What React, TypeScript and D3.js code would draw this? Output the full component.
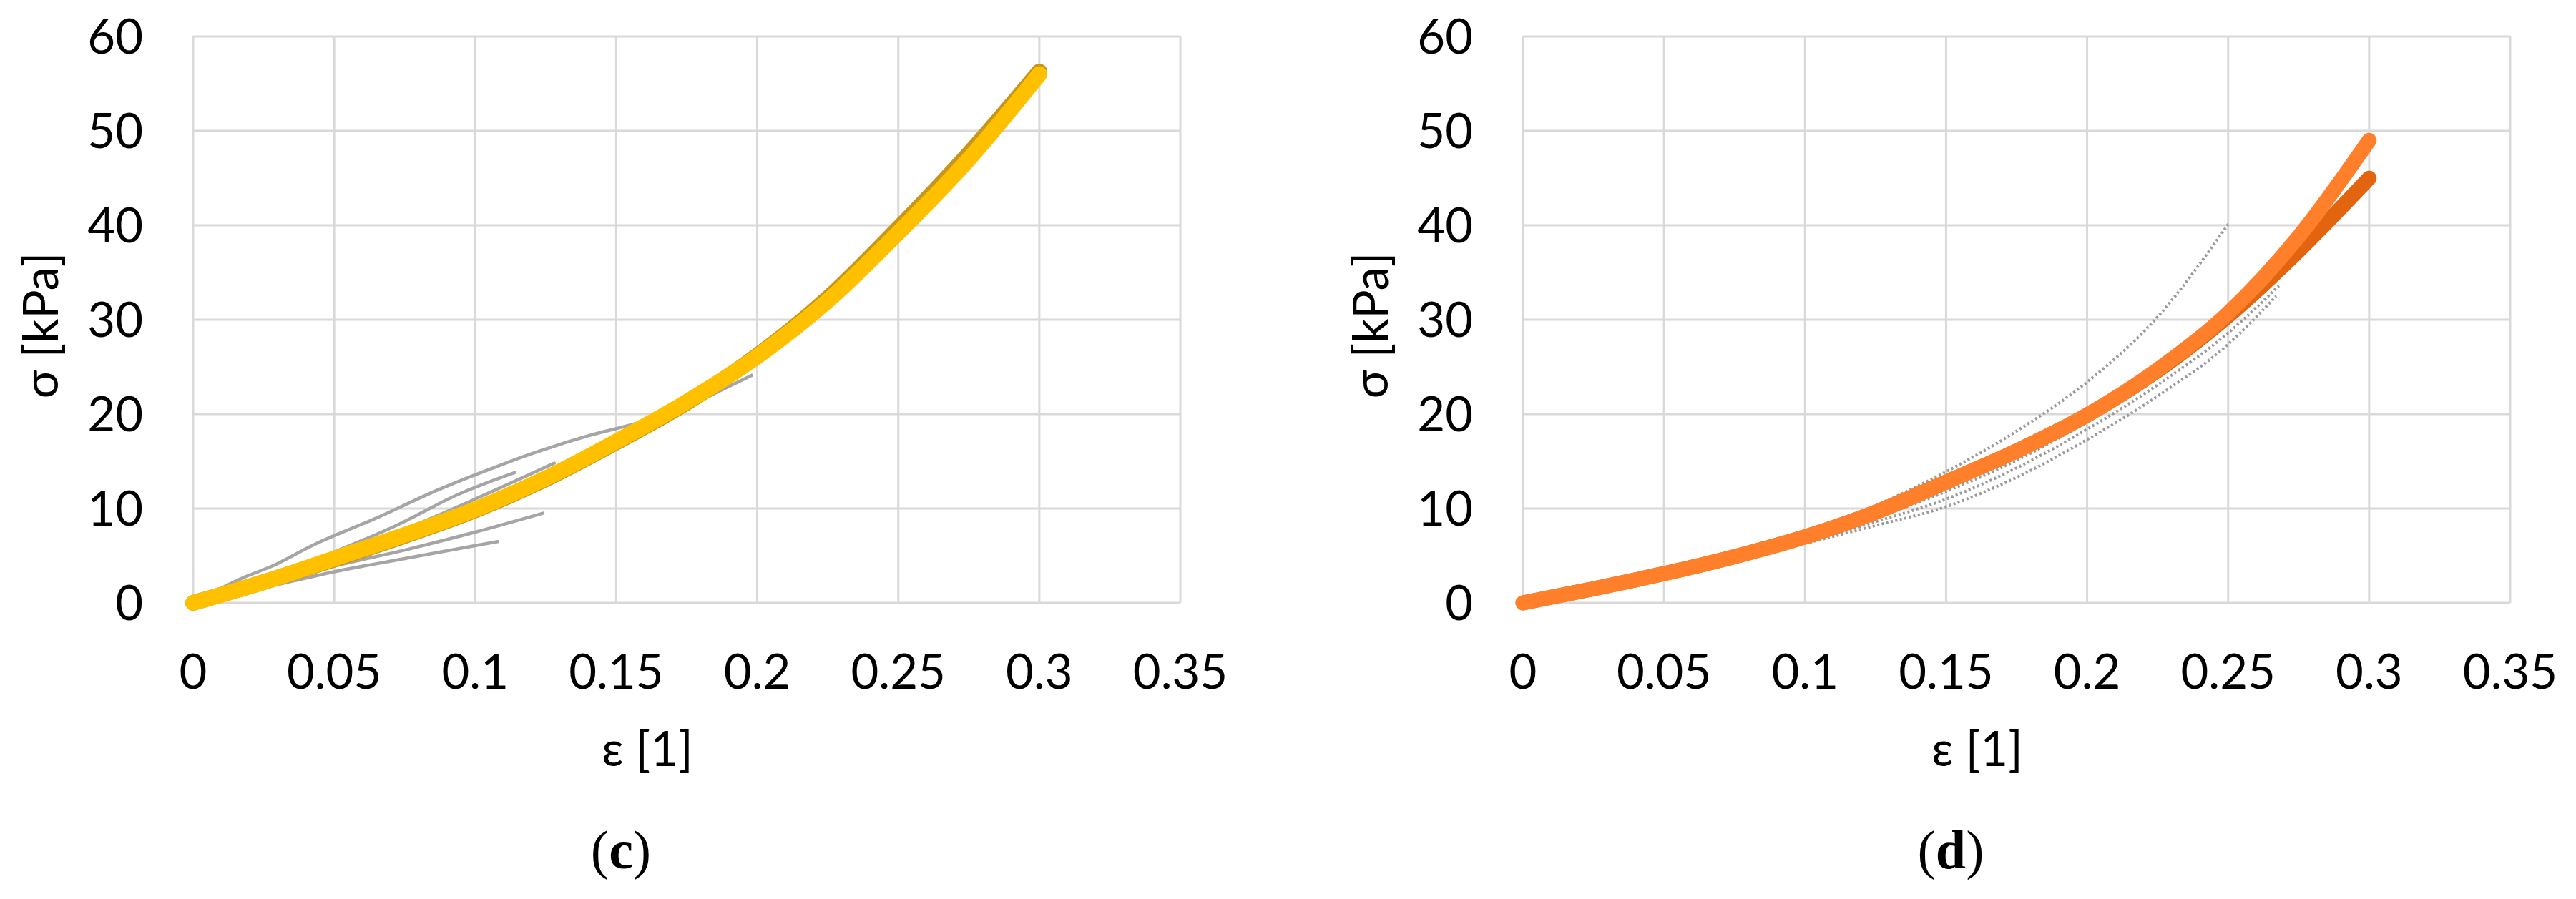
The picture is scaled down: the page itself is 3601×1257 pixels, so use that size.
import { useEffect, useRef } from "react";
import * as d3 from "d3";

const WIDTH = 3601;
const HEIGHT = 1257;

// axis ticks (shared by both panels)
const strainTicks = [0, 0.05, 0.1, 0.15, 0.2, 0.25, 0.3, 0.35];
const stressTicks = [0, 10, 20, 30, 40, 50, 60];

// panel (c): fitted curves
const fitStrainC = [0, 0.025, 0.05, 0.075, 0.1, 0.125, 0.15, 0.175, 0.2, 0.225, 0.25, 0.275, 0.3];
const fitStressC = [0, 2.2, 4.7, 7.2, 9.9, 13.2, 17.1, 21.3, 26.1, 32, 39.2, 47, 56];
const fitStressCDark = [0, 2.2, 4.6, 7.1, 9.8, 13.1, 17, 21.2, 26.2, 32.3, 39.7, 47.6, 56.3];

// panel (c): measured specimens
const specC1Strain = [0, 0.018, 0.028, 0.043, 0.065, 0.087, 0.109, 0.12, 0.14, 0.158, 0.175, 0.187, 0.198];
const specC1Stress = [0, 2.7, 3.9, 6.2, 9, 12, 14.6, 15.8, 17.7, 19.1, 20.8, 22.5, 24.1];
const specC2Strain = [0, 0.028, 0.05, 0.072, 0.094, 0.114];
const specC2Stress = [0, 2.9, 5.4, 8.2, 11.5, 13.8];
const specC3Strain = [0, 0.05, 0.075, 0.1, 0.128];
const specC3Stress = [0, 5, 7.8, 11, 14.8];
const specC4Strain = [0, 0.025, 0.05, 0.075, 0.1, 0.124];
const specC4Stress = [0, 1.9, 3.9, 5.6, 7.5, 9.5];
const specC5Strain = [0, 0.025, 0.05, 0.075, 0.095, 0.108];
const specC5Stress = [0, 1.6, 3.3, 4.7, 5.8, 6.5];

// panel (d): fitted curves
const fitStrainD = [0, 0.025, 0.05, 0.075, 0.1, 0.125, 0.15, 0.175, 0.2, 0.225, 0.25, 0.275, 0.3];
const fitStressDLight = [0, 1.5, 3.1, 4.9, 7, 9.6, 12.8, 16.1, 19.9, 24.7, 30.7, 38.8, 49];
const fitStressDDark = [0, 1.5, 3.1, 4.9, 7, 9.6, 12.8, 16.1, 19.9, 24.6, 30.4, 37.3, 45];

// panel (d): measured specimens
const specD1Strain = [0, 0.05, 0.1, 0.125, 0.15, 0.175, 0.2, 0.225, 0.25];
const specD1Stress = [0, 3, 7.2, 10.3, 13.9, 18.2, 23.4, 30.3, 40.1];
const specD2Strain = [0, 0.05, 0.1, 0.125, 0.15, 0.175, 0.2, 0.225, 0.25, 0.267];
const specD2Stress = [0, 3, 6.3, 8.2, 10.2, 13.3, 17.3, 21.9, 27.4, 32.5];
const specD3Strain = [0, 0.05, 0.1, 0.125, 0.15, 0.175, 0.2, 0.225, 0.25, 0.268];
const specD3Stress = [0, 3, 6.4, 8.6, 11, 14.3, 18.4, 23.1, 28.6, 33.6];
const specD4Strain = [0, 0.05, 0.1, 0.125, 0.15, 0.175, 0.2, 0.225, 0.25, 0.27];
const specD4Stress = [0, 3.05, 6.5, 9, 11.8, 15.1, 19.2, 24, 29.8, 35.5];

const FONT = "Lato, 'Open Sans', sans-serif";

function drawPanel(svg, cfg) {
  const top = 51;
  const bottom = 843;
  const x = d3.scaleLinear().domain([0, 0.35]).range([cfg.left, cfg.left + 1380]);
  const y = d3.scaleLinear().domain([0, 60]).range([bottom, top]);

  const g = svg.append("g");

  // grid
  g.selectAll(".vgrid")
    .data(strainTicks)
    .enter()
    .append("line")
    .attr("x1", (d) => x(d))
    .attr("x2", (d) => x(d))
    .attr("y1", top)
    .attr("y2", bottom)
    .attr("stroke", "#d9d9d9")
    .attr("stroke-width", 3);

  g.selectAll(".hgrid")
    .data(stressTicks)
    .enter()
    .append("line")
    .attr("x1", x(0))
    .attr("x2", x(0.35))
    .attr("y1", (d) => y(d))
    .attr("y2", (d) => y(d))
    .attr("stroke", "#d9d9d9")
    .attr("stroke-width", 3);

  // tick labels
  g.selectAll(".xlab")
    .data(strainTicks)
    .enter()
    .append("text")
    .attr("x", (d) => x(d))
    .attr("y", 963)
    .attr("text-anchor", "middle")
    .attr("font-family", FONT)
    .attr("font-size", 67)
    .attr("fill", "#000")
    .text((d) => String(d));

  g.selectAll(".ylab")
    .data(stressTicks)
    .enter()
    .append("text")
    .attr("x", cfg.left - 70)
    .attr("y", (d) => y(d) + 24)
    .attr("text-anchor", "end")
    .attr("font-family", FONT)
    .attr("font-size", 67)
    .attr("fill", "#000")
    .text((d) => String(d));

  // axis titles
  g.append("text")
    .attr("transform", `translate(${cfg.left - 189},455) rotate(-90)`)
    .attr("text-anchor", "middle")
    .attr("font-family", FONT)
    .attr("font-size", 67)
    .attr("fill", "#000")
    .text("σ [kPa]");

  g.append("text")
    .attr("x", cfg.left + 635)
    .attr("y", 1071)
    .attr("text-anchor", "middle")
    .attr("font-family", FONT)
    .attr("font-size", 67)
    .attr("fill", "#000")
    .text("ε [1]");

  // panel letter
  const lab = g
    .append("text")
    .attr("x", cfg.left + 598)
    .attr("y", 1214)
    .attr("text-anchor", "middle")
    .attr("font-family", "'Liberation Serif', 'Times New Roman', serif")
    .attr("font-size", 76)
    .attr("fill", "#000");
  lab.append("tspan").text("(");
  lab.append("tspan").attr("font-weight", "bold").text(cfg.letter);
  lab.append("tspan").text(")");

  const line = d3
    .line()
    .x((d) => x(d[0]))
    .y((d) => y(d[1]))
    .curve(d3.curveMonotoneX);

  cfg.series.forEach((s) => {
    const pts = s.strain.map((v, i) => [v, s.stress[i]]);
    g.append("path")
      .datum(pts)
      .attr("fill", "none")
      .attr("stroke", s.color)
      .attr("stroke-width", s.width)
      .attr("stroke-linecap", s.dash ? "butt" : "round")
      .attr("stroke-linejoin", "round")
      .attr("stroke-dasharray", s.dash || null)
      .attr("d", line);
  });
}

export default function App() {
  const svgRef = useRef(null);

  useEffect(() => {
    const svg = d3.select(svgRef.current);
    svg.selectAll("*").remove();

    svg.append("rect").attr("width", WIDTH).attr("height", HEIGHT).attr("fill", "#fff");

    const grayC = { color: "#a5a5a5", width: 4.5 };
    drawPanel(svg, {
      left: 270,
      letter: "c",
      series: [
        { strain: specC1Strain, stress: specC1Stress, ...grayC },
        { strain: specC2Strain, stress: specC2Stress, ...grayC },
        { strain: specC3Strain, stress: specC3Stress, ...grayC },
        { strain: specC4Strain, stress: specC4Stress, ...grayC },
        { strain: specC5Strain, stress: specC5Stress, ...grayC },
        { strain: fitStrainC, stress: fitStressCDark, color: "#c8961a", width: 22 },
        { strain: fitStrainC, stress: fitStressC, color: "#ffc000", width: 22 },
      ],
    });

    const grayD = { color: "#9a9a9a", width: 4, dash: "3 3.5" };
    drawPanel(svg, {
      left: 2129,
      letter: "d",
      series: [
        { strain: specD1Strain, stress: specD1Stress, ...grayD },
        { strain: specD2Strain, stress: specD2Stress, ...grayD },
        { strain: specD3Strain, stress: specD3Stress, ...grayD },
        { strain: specD4Strain, stress: specD4Stress, ...grayD },
        { strain: fitStrainD, stress: fitStressDDark, color: "#e2640f", width: 21 },
        { strain: fitStrainD, stress: fitStressDLight, color: "#ff7f2a", width: 21 },
      ],
    });
  }, []);

  return (
    <svg
      ref={svgRef}
      width={WIDTH}
      height={HEIGHT}
      style={{ position: "absolute", left: 0, top: 0, display: "block" }}
    />
  );
}
